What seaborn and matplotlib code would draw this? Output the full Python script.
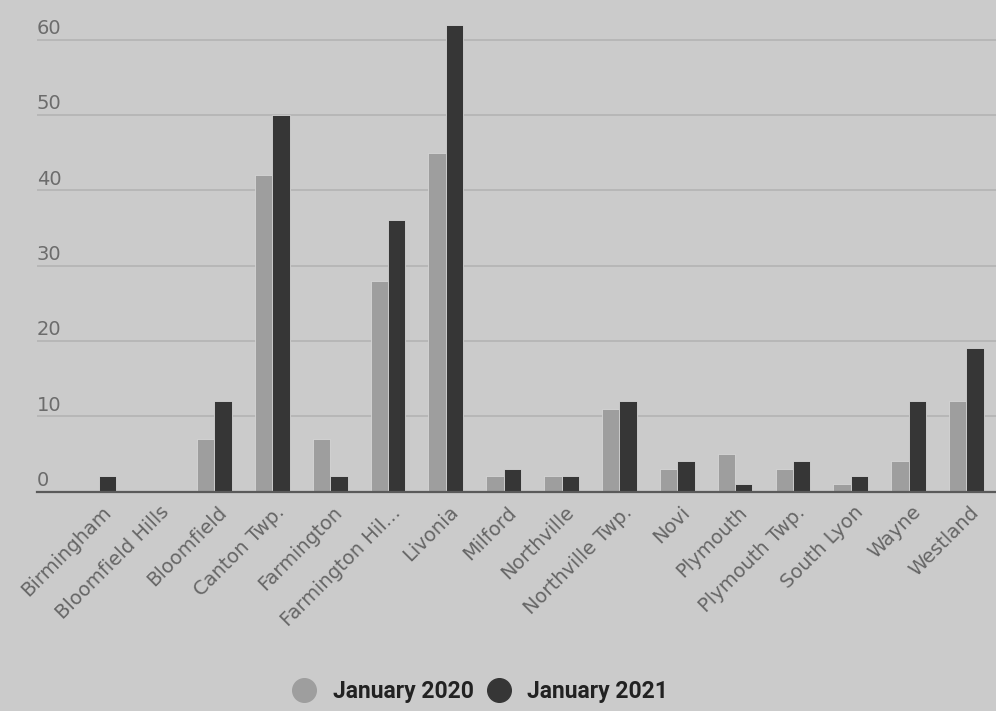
import matplotlib
matplotlib.use("Agg")
import matplotlib.pyplot as plt
import matplotlib.transforms as mtransforms
from matplotlib.lines import Line2D
import seaborn as sns
import pandas as pd

towns = ["Birmingham", "Bloomfield Hills", "Bloomfield", "Canton Twp.", "Farmington",
         "Farmington Hil...", "Livonia", "Milford", "Northville", "Northville Twp.",
         "Novi", "Plymouth", "Plymouth Twp.", "South Lyon", "Wayne", "Westland"]
jan_2020 = [0, 0, 7, 42, 7, 28, 45, 2, 2, 11, 3, 5, 3, 1, 4, 12]
jan_2021 = [2, 0, 12, 50, 2, 36, 62, 3, 2, 12, 4, 1, 4, 2, 12, 19]
series_names = ["January 2020", "January 2021"]
yticks = [0, 10, 20, 30, 40, 50, 60]

BG = "#cbcbcb"
LIGHT = "#9e9e9e"
DARK = "#363636"

df = pd.DataFrame({
    "town": towns * 2,
    "count": jan_2020 + jan_2021,
    "year": [series_names[0]] * len(towns) + [series_names[1]] * len(towns),
})

sns.set_style("white")
plt.rcParams["font.family"] = ["DejaVu Sans"]

fig = plt.figure(figsize=(9.96, 7.11), dpi=100)
fig.patch.set_facecolor(BG)
ax = fig.add_axes([0.037, 0.3087, 0.963, 0.6778])
ax.set_facecolor(BG)

sns.barplot(data=df, x="town", y="count", hue="year", order=towns,
            hue_order=series_names, palette=[LIGHT, DARK], width=0.6,
            edgecolor="#d6d6d6", linewidth=0.6, ax=ax, legend=False)

ax.set_xlim(-1.07, 15.51)
ax.set_ylim(0, 64)
ax.set_xlabel("")
ax.set_ylabel("")

# grid
ax.set_yticks(yticks)
ax.set_yticklabels([])
ax.tick_params(axis="y", length=0)
ax.yaxis.grid(True, color="#b3b3b3", linewidth=1.2)
ax.set_axisbelow(True)
for s in ["left", "right", "top"]:
    ax.spines[s].set_visible(False)
ax.spines["bottom"].set_color("#5a5a5a")
ax.spines["bottom"].set_linewidth(1.6)

# y labels above grid lines
trans = mtransforms.blended_transform_factory(ax.transAxes, ax.transData)
off = mtransforms.ScaledTranslation(0, 4 / 72, fig.dpi_scale_trans)
for v in yticks:
    ax.text(0.0, v, str(v), transform=trans + off, ha="left", va="baseline",
            fontsize=14, color="#6c6c6c")

# x ticks: boundaries as minor tick marks, labels at centers
ax.set_xticks(range(len(towns)))
ax.set_xticklabels(towns, rotation=45, ha="right", rotation_mode="anchor",
                   fontsize=14, color="#666666")
ax.tick_params(axis="x", which="major", length=0, pad=8)
ax.set_xticks([i - 0.5 for i in range(len(towns) + 1)], minor=True)
ax.tick_params(axis="x", which="minor", length=10, width=1, color="#707070",
               direction="out")
xoff = mtransforms.ScaledTranslation(2 / 72, 0, fig.dpi_scale_trans)
for lab in ax.get_xticklabels():
    lab.set_transform(lab.get_transform() + xoff)

handles = [Line2D([], [], marker="o", linestyle="", markersize=17,
                  markerfacecolor=c, markeredgecolor=c) for c in (LIGHT, DARK)]
fig.legend(handles, series_names, loc="center", bbox_to_anchor=(0.4765, 0.027),
           ncol=2, frameon=False, handletextpad=0.25, columnspacing=0.1,
           prop={"family": "Roboto", "weight": "bold", "size": 16.5},
           labelcolor="#222222")

fig.savefig("out.png", dpi=100, facecolor=BG)
